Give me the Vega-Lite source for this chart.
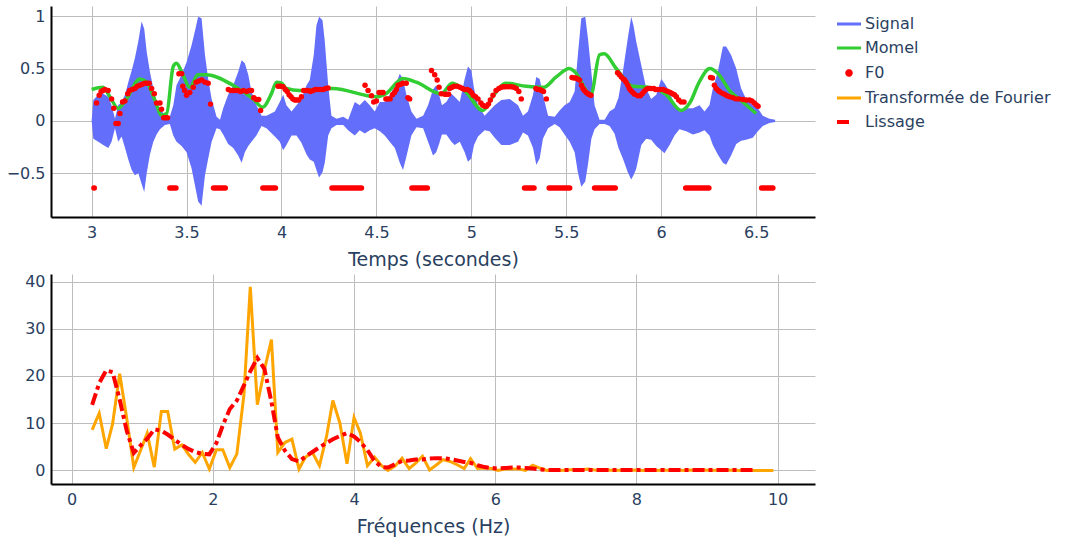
{
  "$schema": "https://vega.github.io/schema/vega-lite/v6.json",
  "padding": {"left": 5, "top": 6, "right": 5, "bottom": 5},
  "autosize": {"type": "pad"},
  "background": "white",
  "config": {
    "view": {"stroke": null},
    "font": "DejaVu Sans",
    "axis": {
      "labelFont": "DejaVu Sans", "labelFontSize": 16, "labelColor": "#2a3f5f",
      "titleFont": "DejaVu Sans", "titleFontSize": 19, "titleFontWeight": "normal", "titleColor": "#2a3f5f",
      "ticks": false, "gridColor": "#bdbdbd", "gridWidth": 1, "domainColor": "#000000", "domainWidth": 2, "labelPadding": 6
    },
    "axisY": {"minExtent": 46, "maxExtent": 46},
    "axisX": {"minExtent": 24, "maxExtent": 24, "titlePadding": 9, "labelPadding": 7},
    "legend": {
      "title": null, "orient": "right", "offset": 16, "padding": 10,
      "symbolType": "stroke", "symbolSize": 441, "symbolStrokeWidth": 3,
      "labelFont": "DejaVu Sans", "labelFontSize": 16, "labelColor": "#2a3f5f", "labelOffset": 8, "rowPadding": 8, "labelLimit": 0
    }
  },
  "datasets": {
    "signal": [
      {"t": 3.0, "hi": 0.0, "lo": 0.0}, {"t": 3.009, "hi": 0.2, "lo": -0.17}, {"t": 3.035, "hi": 0.25, "lo": -0.2}, {"t": 3.061, "hi": 0.26, "lo": -0.23},
      {"t": 3.088, "hi": 0.23, "lo": -0.26}, {"t": 3.105, "hi": 0.15, "lo": -0.2}, {"t": 3.123, "hi": 0.02, "lo": -0.07}, {"t": 3.14, "hi": 0.15, "lo": -0.2},
      {"t": 3.158, "hi": 0.18, "lo": -0.15}, {"t": 3.176, "hi": 0.25, "lo": -0.26}, {"t": 3.193, "hi": 0.37, "lo": -0.37}, {"t": 3.211, "hi": 0.48, "lo": -0.47},
      {"t": 3.228, "hi": 0.6, "lo": -0.52}, {"t": 3.246, "hi": 0.76, "lo": -0.5}, {"t": 3.263, "hi": 0.95, "lo": -0.6}, {"t": 3.277, "hi": 0.88, "lo": -0.68},
      {"t": 3.29, "hi": 0.66, "lo": -0.5}, {"t": 3.307, "hi": 0.47, "lo": -0.32}, {"t": 3.325, "hi": 0.31, "lo": -0.2}, {"t": 3.342, "hi": 0.18, "lo": -0.13},
      {"t": 3.36, "hi": 0.12, "lo": -0.08}, {"t": 3.386, "hi": 0.05, "lo": -0.04}, {"t": 3.412, "hi": 0.04, "lo": -0.03}, {"t": 3.43, "hi": 0.15, "lo": -0.14},
      {"t": 3.447, "hi": 0.34, "lo": -0.2}, {"t": 3.474, "hi": 0.44, "lo": -0.24}, {"t": 3.5, "hi": 0.56, "lo": -0.3}, {"t": 3.526, "hi": 0.72, "lo": -0.45},
      {"t": 3.547, "hi": 0.88, "lo": -0.64}, {"t": 3.561, "hi": 0.995, "lo": -0.77}, {"t": 3.579, "hi": 0.98, "lo": -0.81}, {"t": 3.597, "hi": 0.63, "lo": -0.52},
      {"t": 3.614, "hi": 0.4, "lo": -0.36}, {"t": 3.632, "hi": 0.21, "lo": -0.2}, {"t": 3.658, "hi": 0.04, "lo": -0.07}, {"t": 3.676, "hi": 0.01, "lo": -0.08},
      {"t": 3.693, "hi": 0.12, "lo": -0.13}, {"t": 3.719, "hi": 0.25, "lo": -0.22}, {"t": 3.746, "hi": 0.34, "lo": -0.26}, {"t": 3.772, "hi": 0.47, "lo": -0.33},
      {"t": 3.79, "hi": 0.58, "lo": -0.4}, {"t": 3.807, "hi": 0.55, "lo": -0.3}, {"t": 3.825, "hi": 0.44, "lo": -0.24}, {"t": 3.842, "hi": 0.28, "lo": -0.2},
      {"t": 3.868, "hi": 0.15, "lo": -0.14}, {"t": 3.895, "hi": 0.05, "lo": -0.05}, {"t": 3.921, "hi": 0.05, "lo": -0.07}, {"t": 3.965, "hi": 0.09, "lo": -0.15},
      {"t": 3.991, "hi": 0.18, "lo": -0.2}, {"t": 4.009, "hi": 0.25, "lo": -0.28}, {"t": 4.026, "hi": 0.15, "lo": -0.23}, {"t": 4.053, "hi": 0.09, "lo": -0.14},
      {"t": 4.079, "hi": 0.15, "lo": -0.14}, {"t": 4.105, "hi": 0.21, "lo": -0.21}, {"t": 4.132, "hi": 0.34, "lo": -0.32}, {"t": 4.149, "hi": 0.39, "lo": -0.37},
      {"t": 4.17, "hi": 0.63, "lo": -0.39}, {"t": 4.184, "hi": 0.91, "lo": -0.47}, {"t": 4.198, "hi": 0.995, "lo": -0.54}, {"t": 4.216, "hi": 0.96, "lo": -0.49},
      {"t": 4.228, "hi": 0.76, "lo": -0.4}, {"t": 4.246, "hi": 0.34, "lo": -0.14}, {"t": 4.263, "hi": 0.05, "lo": -0.07}, {"t": 4.29, "hi": 0.02, "lo": -0.04},
      {"t": 4.325, "hi": 0.04, "lo": -0.04}, {"t": 4.351, "hi": 0.01, "lo": -0.09}, {"t": 4.386, "hi": 0.18, "lo": -0.14}, {"t": 4.412, "hi": 0.15, "lo": -0.09},
      {"t": 4.439, "hi": 0.2, "lo": -0.12}, {"t": 4.465, "hi": 0.15, "lo": -0.09}, {"t": 4.491, "hi": 0.09, "lo": -0.07}, {"t": 4.518, "hi": 0.18, "lo": -0.1},
      {"t": 4.544, "hi": 0.18, "lo": -0.14}, {"t": 4.57, "hi": 0.25, "lo": -0.2}, {"t": 4.597, "hi": 0.32, "lo": -0.26}, {"t": 4.623, "hi": 0.45, "lo": -0.4},
      {"t": 4.64, "hi": 0.4, "lo": -0.47}, {"t": 4.658, "hi": 0.25, "lo": -0.34}, {"t": 4.684, "hi": 0.09, "lo": -0.14}, {"t": 4.711, "hi": 0.02, "lo": -0.06},
      {"t": 4.746, "hi": 0.05, "lo": -0.07}, {"t": 4.772, "hi": 0.15, "lo": -0.2}, {"t": 4.798, "hi": 0.3, "lo": -0.33}, {"t": 4.815, "hi": 0.34, "lo": -0.3},
      {"t": 4.83, "hi": 0.25, "lo": -0.22}, {"t": 4.845, "hi": 0.15, "lo": -0.13}, {"t": 4.868, "hi": 0.18, "lo": -0.13}, {"t": 4.895, "hi": 0.26, "lo": -0.2},
      {"t": 4.912, "hi": 0.23, "lo": -0.23}, {"t": 4.939, "hi": 0.18, "lo": -0.2}, {"t": 4.965, "hi": 0.4, "lo": -0.3}, {"t": 4.982, "hi": 0.52, "lo": -0.39},
      {"t": 5.0, "hi": 0.48, "lo": -0.36}, {"t": 5.014, "hi": 0.31, "lo": -0.23}, {"t": 5.035, "hi": 0.15, "lo": -0.15}, {"t": 5.07, "hi": 0.05, "lo": -0.09},
      {"t": 5.096, "hi": 0.1, "lo": -0.1}, {"t": 5.123, "hi": 0.15, "lo": -0.16}, {"t": 5.158, "hi": 0.2, "lo": -0.23}, {"t": 5.202, "hi": 0.21, "lo": -0.23},
      {"t": 5.246, "hi": 0.15, "lo": -0.2}, {"t": 5.272, "hi": 0.05, "lo": -0.11}, {"t": 5.298, "hi": 0.09, "lo": -0.14}, {"t": 5.325, "hi": 0.25, "lo": -0.26},
      {"t": 5.342, "hi": 0.42, "lo": -0.42}, {"t": 5.36, "hi": 0.4, "lo": -0.36}, {"t": 5.377, "hi": 0.25, "lo": -0.17}, {"t": 5.404, "hi": 0.05, "lo": -0.07},
      {"t": 5.439, "hi": 0.04, "lo": -0.03}, {"t": 5.465, "hi": 0.1, "lo": -0.06}, {"t": 5.491, "hi": 0.15, "lo": -0.13}, {"t": 5.518, "hi": 0.18, "lo": -0.2},
      {"t": 5.544, "hi": 0.28, "lo": -0.3}, {"t": 5.561, "hi": 0.63, "lo": -0.49}, {"t": 5.579, "hi": 0.98, "lo": -0.63}, {"t": 5.6, "hi": 0.995, "lo": -0.58},
      {"t": 5.614, "hi": 0.79, "lo": -0.42}, {"t": 5.632, "hi": 0.47, "lo": -0.17}, {"t": 5.649, "hi": 0.15, "lo": -0.08}, {"t": 5.675, "hi": 0.01, "lo": -0.03},
      {"t": 5.702, "hi": 0.01, "lo": -0.03}, {"t": 5.728, "hi": 0.09, "lo": -0.05}, {"t": 5.754, "hi": 0.12, "lo": -0.12}, {"t": 5.775, "hi": 0.22, "lo": -0.26},
      {"t": 5.798, "hi": 0.47, "lo": -0.36}, {"t": 5.824, "hi": 0.79, "lo": -0.49}, {"t": 5.842, "hi": 0.995, "lo": -0.56}, {"t": 5.854, "hi": 0.91, "lo": -0.52},
      {"t": 5.868, "hi": 0.76, "lo": -0.46}, {"t": 5.895, "hi": 0.53, "lo": -0.23}, {"t": 5.921, "hi": 0.31, "lo": -0.17}, {"t": 5.947, "hi": 0.21, "lo": -0.18},
      {"t": 5.974, "hi": 0.25, "lo": -0.24}, {"t": 6.0, "hi": 0.4, "lo": -0.28}, {"t": 6.017, "hi": 0.36, "lo": -0.31}, {"t": 6.044, "hi": 0.28, "lo": -0.23},
      {"t": 6.07, "hi": 0.15, "lo": -0.14}, {"t": 6.096, "hi": 0.09, "lo": -0.08}, {"t": 6.132, "hi": 0.12, "lo": -0.1}, {"t": 6.167, "hi": 0.12, "lo": -0.13},
      {"t": 6.202, "hi": 0.15, "lo": -0.11}, {"t": 6.228, "hi": 0.09, "lo": -0.09}, {"t": 6.254, "hi": 0.15, "lo": -0.14}, {"t": 6.272, "hi": 0.31, "lo": -0.23},
      {"t": 6.298, "hi": 0.47, "lo": -0.32}, {"t": 6.325, "hi": 0.71, "lo": -0.4}, {"t": 6.342, "hi": 0.71, "lo": -0.42}, {"t": 6.368, "hi": 0.63, "lo": -0.33},
      {"t": 6.395, "hi": 0.5, "lo": -0.22}, {"t": 6.421, "hi": 0.31, "lo": -0.19}, {"t": 6.447, "hi": 0.21, "lo": -0.18}, {"t": 6.482, "hi": 0.15, "lo": -0.16},
      {"t": 6.509, "hi": 0.12, "lo": -0.1}, {"t": 6.535, "hi": 0.05, "lo": -0.05}, {"t": 6.57, "hi": 0.02, "lo": -0.02}, {"t": 6.6, "hi": 0.01, "lo": -0.01}
    ],
    "momel": [
      {"t": 3.0, "v": 0.3}, {"t": 3.06, "v": 0.32}, {"t": 3.096, "v": 0.23}, {"t": 3.14, "v": 0.12}, {"t": 3.184, "v": 0.21}, {"t": 3.254, "v": 0.4},
      {"t": 3.29, "v": 0.37}, {"t": 3.333, "v": 0.2}, {"t": 3.368, "v": 0.054}, {"t": 3.395, "v": 0.07}, {"t": 3.43, "v": 0.52}, {"t": 3.447, "v": 0.55},
      {"t": 3.474, "v": 0.47}, {"t": 3.517, "v": 0.32}, {"t": 3.56, "v": 0.44}, {"t": 3.605, "v": 0.44}, {"t": 3.745, "v": 0.34}, {"t": 3.85, "v": 0.21},
      {"t": 3.9, "v": 0.13}, {"t": 3.947, "v": 0.26}, {"t": 3.974, "v": 0.37}, {"t": 4.0, "v": 0.36}, {"t": 4.026, "v": 0.31}, {"t": 4.096, "v": 0.29},
      {"t": 4.27, "v": 0.31}, {"t": 4.5, "v": 0.23}, {"t": 4.55, "v": 0.26}, {"t": 4.64, "v": 0.405}, {"t": 4.71, "v": 0.37}, {"t": 4.84, "v": 0.26},
      {"t": 4.9, "v": 0.36}, {"t": 4.97, "v": 0.28}, {"t": 5.06, "v": 0.1}, {"t": 5.12, "v": 0.25}, {"t": 5.18, "v": 0.36}, {"t": 5.29, "v": 0.33},
      {"t": 5.38, "v": 0.32}, {"t": 5.447, "v": 0.42}, {"t": 5.517, "v": 0.5}, {"t": 5.544, "v": 0.47}, {"t": 5.63, "v": 0.25}, {"t": 5.675, "v": 0.63},
      {"t": 5.7, "v": 0.64}, {"t": 5.763, "v": 0.5}, {"t": 5.85, "v": 0.33}, {"t": 5.94, "v": 0.32}, {"t": 6.026, "v": 0.25}, {"t": 6.105, "v": 0.1},
      {"t": 6.15, "v": 0.17}, {"t": 6.2, "v": 0.37}, {"t": 6.256, "v": 0.5}, {"t": 6.3, "v": 0.45}, {"t": 6.36, "v": 0.29}, {"t": 6.43, "v": 0.18},
      {"t": 6.5, "v": 0.07}
    ],
    "f0": [
      {"t": 3.026, "v": 0.17}, {"t": 3.04, "v": 0.245}, {"t": 3.05, "v": 0.28}, {"t": 3.06, "v": 0.29}, {"t": 3.07, "v": 0.3}, {"t": 3.087, "v": 0.29},
      {"t": 3.105, "v": 0.21}, {"t": 3.117, "v": 0.12}, {"t": 3.128, "v": -0.025}, {"t": 3.14, "v": -0.025}, {"t": 3.149, "v": 0.07}, {"t": 3.163, "v": 0.18},
      {"t": 3.175, "v": 0.19}, {"t": 3.19, "v": 0.26}, {"t": 3.2, "v": 0.29}, {"t": 3.214, "v": 0.3}, {"t": 3.228, "v": 0.31}, {"t": 3.24, "v": 0.33},
      {"t": 3.254, "v": 0.34}, {"t": 3.267, "v": 0.35}, {"t": 3.28, "v": 0.36}, {"t": 3.292, "v": 0.36}, {"t": 3.303, "v": 0.36}, {"t": 3.316, "v": 0.31},
      {"t": 3.33, "v": 0.26}, {"t": 3.342, "v": 0.17}, {"t": 3.36, "v": 0.17}, {"t": 3.368, "v": 0.11}, {"t": 3.38, "v": 0.03}, {"t": 3.39, "v": 0.03},
      {"t": 3.4, "v": 0.03}, {"t": 3.46, "v": 0.45}, {"t": 3.474, "v": 0.45}, {"t": 3.48, "v": 0.33}, {"t": 3.49, "v": 0.29}, {"t": 3.5, "v": 0.245},
      {"t": 3.517, "v": 0.27}, {"t": 3.535, "v": 0.32}, {"t": 3.55, "v": 0.37}, {"t": 3.565, "v": 0.38}, {"t": 3.58, "v": 0.39}, {"t": 3.597, "v": 0.37},
      {"t": 3.614, "v": 0.36}, {"t": 3.626, "v": 0.16}, {"t": 3.72, "v": 0.3}, {"t": 3.733, "v": 0.29}, {"t": 3.745, "v": 0.29}, {"t": 3.757, "v": 0.29},
      {"t": 3.77, "v": 0.29}, {"t": 3.785, "v": 0.28}, {"t": 3.8, "v": 0.29}, {"t": 3.816, "v": 0.28}, {"t": 3.83, "v": 0.29}, {"t": 3.842, "v": 0.29},
      {"t": 3.854, "v": 0.22}, {"t": 3.868, "v": 0.205}, {"t": 3.88, "v": 0.205}, {"t": 3.89, "v": 0.1}, {"t": 3.982, "v": 0.33}, {"t": 3.995, "v": 0.33},
      {"t": 4.008, "v": 0.325}, {"t": 4.02, "v": 0.3}, {"t": 4.03, "v": 0.28}, {"t": 4.04, "v": 0.25}, {"t": 4.05, "v": 0.23}, {"t": 4.06, "v": 0.21},
      {"t": 4.07, "v": 0.2}, {"t": 4.08, "v": 0.2}, {"t": 4.09, "v": 0.2}, {"t": 4.105, "v": 0.23}, {"t": 4.117, "v": 0.29}, {"t": 4.128, "v": 0.29},
      {"t": 4.14, "v": 0.29}, {"t": 4.153, "v": 0.28}, {"t": 4.166, "v": 0.29}, {"t": 4.178, "v": 0.3}, {"t": 4.19, "v": 0.3}, {"t": 4.205, "v": 0.3},
      {"t": 4.22, "v": 0.3}, {"t": 4.232, "v": 0.31}, {"t": 4.245, "v": 0.315}, {"t": 4.44, "v": 0.34}, {"t": 4.456, "v": 0.29}, {"t": 4.474, "v": 0.24},
      {"t": 4.486, "v": 0.18}, {"t": 4.5, "v": 0.19}, {"t": 4.514, "v": 0.27}, {"t": 4.525, "v": 0.27}, {"t": 4.535, "v": 0.27}, {"t": 4.55, "v": 0.21},
      {"t": 4.56, "v": 0.21}, {"t": 4.572, "v": 0.21}, {"t": 4.585, "v": 0.25}, {"t": 4.596, "v": 0.27}, {"t": 4.605, "v": 0.3}, {"t": 4.614, "v": 0.34},
      {"t": 4.628, "v": 0.35}, {"t": 4.64, "v": 0.36}, {"t": 4.657, "v": 0.36}, {"t": 4.666, "v": 0.22}, {"t": 4.675, "v": 0.21}, {"t": 4.79, "v": 0.48},
      {"t": 4.807, "v": 0.44}, {"t": 4.82, "v": 0.39}, {"t": 4.83, "v": 0.32}, {"t": 4.842, "v": 0.26}, {"t": 4.86, "v": 0.255}, {"t": 4.87, "v": 0.255},
      {"t": 4.88, "v": 0.255}, {"t": 4.886, "v": 0.31}, {"t": 4.898, "v": 0.32}, {"t": 4.91, "v": 0.33}, {"t": 4.925, "v": 0.33}, {"t": 4.94, "v": 0.32},
      {"t": 4.953, "v": 0.31}, {"t": 4.965, "v": 0.3}, {"t": 4.978, "v": 0.3}, {"t": 4.99, "v": 0.29}, {"t": 5.0, "v": 0.27}, {"t": 5.01, "v": 0.245},
      {"t": 5.022, "v": 0.23}, {"t": 5.035, "v": 0.21}, {"t": 5.05, "v": 0.17}, {"t": 5.06, "v": 0.15}, {"t": 5.07, "v": 0.14}, {"t": 5.08, "v": 0.14},
      {"t": 5.09, "v": 0.16}, {"t": 5.1, "v": 0.2}, {"t": 5.114, "v": 0.245}, {"t": 5.13, "v": 0.29}, {"t": 5.145, "v": 0.31}, {"t": 5.158, "v": 0.32},
      {"t": 5.17, "v": 0.325}, {"t": 5.18, "v": 0.325}, {"t": 5.195, "v": 0.325}, {"t": 5.21, "v": 0.325}, {"t": 5.224, "v": 0.32}, {"t": 5.237, "v": 0.31},
      {"t": 5.25, "v": 0.28}, {"t": 5.263, "v": 0.21}, {"t": 5.34, "v": 0.31}, {"t": 5.35, "v": 0.3}, {"t": 5.36, "v": 0.3}, {"t": 5.37, "v": 0.29},
      {"t": 5.38, "v": 0.28}, {"t": 5.395, "v": 0.21}, {"t": 5.53, "v": 0.415}, {"t": 5.54, "v": 0.41}, {"t": 5.55, "v": 0.41}, {"t": 5.56, "v": 0.4},
      {"t": 5.57, "v": 0.39}, {"t": 5.58, "v": 0.34}, {"t": 5.588, "v": 0.31}, {"t": 5.595, "v": 0.29}, {"t": 5.605, "v": 0.27}, {"t": 5.614, "v": 0.26},
      {"t": 5.622, "v": 0.25}, {"t": 5.63, "v": 0.245}, {"t": 5.77, "v": 0.46}, {"t": 5.78, "v": 0.44}, {"t": 5.79, "v": 0.42}, {"t": 5.8, "v": 0.4},
      {"t": 5.807, "v": 0.39}, {"t": 5.815, "v": 0.37}, {"t": 5.824, "v": 0.34}, {"t": 5.832, "v": 0.31}, {"t": 5.84, "v": 0.29}, {"t": 5.85, "v": 0.27},
      {"t": 5.86, "v": 0.255}, {"t": 5.877, "v": 0.24}, {"t": 5.89, "v": 0.24}, {"t": 5.9, "v": 0.26}, {"t": 5.91, "v": 0.28}, {"t": 5.92, "v": 0.3},
      {"t": 5.93, "v": 0.31}, {"t": 5.945, "v": 0.31}, {"t": 5.96, "v": 0.31}, {"t": 5.97, "v": 0.3}, {"t": 5.98, "v": 0.3}, {"t": 5.995, "v": 0.3},
      {"t": 6.01, "v": 0.3}, {"t": 6.022, "v": 0.29}, {"t": 6.035, "v": 0.28}, {"t": 6.048, "v": 0.27}, {"t": 6.06, "v": 0.26}, {"t": 6.07, "v": 0.25},
      {"t": 6.08, "v": 0.23}, {"t": 6.092, "v": 0.2}, {"t": 6.105, "v": 0.18}, {"t": 6.12, "v": 0.18}, {"t": 6.26, "v": 0.415}, {"t": 6.27, "v": 0.41},
      {"t": 6.28, "v": 0.34}, {"t": 6.29, "v": 0.31}, {"t": 6.3, "v": 0.29}, {"t": 6.307, "v": 0.28}, {"t": 6.32, "v": 0.265}, {"t": 6.333, "v": 0.255},
      {"t": 6.346, "v": 0.24}, {"t": 6.36, "v": 0.23}, {"t": 6.378, "v": 0.22}, {"t": 6.395, "v": 0.21}, {"t": 6.41, "v": 0.21}, {"t": 6.43, "v": 0.205},
      {"t": 6.448, "v": 0.2}, {"t": 6.465, "v": 0.2}, {"t": 6.478, "v": 0.19}, {"t": 6.49, "v": 0.17}, {"t": 6.5, "v": 0.155}, {"t": 6.51, "v": 0.14}
    ],
    "unvoiced": [
      {"t0": 3.012, "t1": 3.014, "v": -0.64}, {"t0": 3.412, "t1": 3.444, "v": -0.64}, {"t0": 3.642, "t1": 3.704, "v": -0.64},
      {"t0": 3.902, "t1": 3.968, "v": -0.64}, {"t0": 4.266, "t1": 4.421, "v": -0.64}, {"t0": 4.687, "t1": 4.768, "v": -0.64},
      {"t0": 5.28, "t1": 5.33, "v": -0.64}, {"t0": 5.41, "t1": 5.518, "v": -0.64}, {"t0": 5.649, "t1": 5.758, "v": -0.64},
      {"t0": 6.129, "t1": 6.251, "v": -0.64}, {"t0": 6.529, "t1": 6.588, "v": -0.64}
    ],
    "fourier": [
      {"f": 0.29, "a": 8.6}, {"f": 0.39, "a": 12.1}, {"f": 0.49, "a": 4.6}, {"f": 0.58, "a": 9.9}, {"f": 0.68, "a": 20.5}, {"f": 0.78, "a": 11.0},
      {"f": 0.88, "a": 0.6}, {"f": 0.97, "a": 4.0}, {"f": 1.07, "a": 7.9}, {"f": 1.17, "a": 0.7}, {"f": 1.27, "a": 12.5}, {"f": 1.36, "a": 12.5},
      {"f": 1.46, "a": 4.5}, {"f": 1.56, "a": 5.4}, {"f": 1.66, "a": 3.3}, {"f": 1.75, "a": 1.7}, {"f": 1.85, "a": 3.8}, {"f": 1.95, "a": 0.3},
      {"f": 2.05, "a": 4.4}, {"f": 2.14, "a": 4.4}, {"f": 2.24, "a": 0.6}, {"f": 2.34, "a": 3.5}, {"f": 2.44, "a": 16.0}, {"f": 2.53, "a": 38.9},
      {"f": 2.63, "a": 13.9}, {"f": 2.73, "a": 21.3}, {"f": 2.83, "a": 27.7}, {"f": 2.92, "a": 3.8}, {"f": 3.02, "a": 5.9}, {"f": 3.12, "a": 6.6},
      {"f": 3.22, "a": 0.3}, {"f": 3.31, "a": 2.8}, {"f": 3.41, "a": 3.8}, {"f": 3.51, "a": 1.0}, {"f": 3.61, "a": 7.2}, {"f": 3.7, "a": 14.8},
      {"f": 3.8, "a": 10.0}, {"f": 3.9, "a": 1.4}, {"f": 4.0, "a": 11.2}, {"f": 4.09, "a": 7.9}, {"f": 4.19, "a": 1.0}, {"f": 4.29, "a": 2.8},
      {"f": 4.39, "a": 1.0}, {"f": 4.48, "a": 0.0}, {"f": 4.58, "a": 0.9}, {"f": 4.68, "a": 2.6}, {"f": 4.78, "a": 0.4}, {"f": 4.87, "a": 1.5},
      {"f": 4.97, "a": 3.0}, {"f": 5.07, "a": 0.1}, {"f": 5.17, "a": 1.2}, {"f": 5.26, "a": 2.3}, {"f": 5.36, "a": 1.9}, {"f": 5.46, "a": 1.2},
      {"f": 5.56, "a": 0.4}, {"f": 5.65, "a": 2.5}, {"f": 5.75, "a": 0.4}, {"f": 5.85, "a": 0.5}, {"f": 5.95, "a": 0.4}, {"f": 6.04, "a": 0.0},
      {"f": 6.14, "a": 0.3}, {"f": 6.24, "a": 0.3}, {"f": 6.34, "a": 0.3}, {"f": 6.43, "a": 0.0}, {"f": 6.53, "a": 1.1}, {"f": 6.63, "a": 0.5},
      {"f": 6.73, "a": 0.0}, {"f": 6.82, "a": 0.1}, {"f": 6.92, "a": 0.0}, {"f": 7.02, "a": 0.1}, {"f": 7.12, "a": 0.2}, {"f": 7.21, "a": 0.1},
      {"f": 7.31, "a": 0.3}, {"f": 7.41, "a": 0.1}, {"f": 7.51, "a": 0.0}, {"f": 7.6, "a": 0.1}, {"f": 7.7, "a": 0.0}, {"f": 7.8, "a": 0.1},
      {"f": 7.9, "a": 0.0}, {"f": 7.99, "a": 0.1}, {"f": 8.09, "a": 0.0}, {"f": 8.19, "a": 0.2}, {"f": 8.29, "a": 0.0}, {"f": 8.38, "a": 0.1},
      {"f": 8.48, "a": 0.0}, {"f": 8.58, "a": 0.1}, {"f": 8.68, "a": 0.0}, {"f": 8.77, "a": 0.1}, {"f": 8.87, "a": 0.0}, {"f": 8.97, "a": 0.1},
      {"f": 9.07, "a": 0.0}, {"f": 9.16, "a": 0.1}, {"f": 9.26, "a": 0.0}, {"f": 9.36, "a": 0.1}, {"f": 9.46, "a": 0.0}, {"f": 9.55, "a": 0.1},
      {"f": 9.65, "a": 0.0}, {"f": 9.75, "a": 0.0}, {"f": 9.85, "a": 0.0}, {"f": 9.94, "a": 0.0}
    ],
    "lissage": [
      {"f": 0.29, "a": 13.9}, {"f": 0.39, "a": 18.5}, {"f": 0.49, "a": 21.2}, {"f": 0.58, "a": 20.8}, {"f": 0.68, "a": 15.0}, {"f": 0.78, "a": 8.4},
      {"f": 0.88, "a": 3.7}, {"f": 0.97, "a": 5.2}, {"f": 1.07, "a": 6.7}, {"f": 1.17, "a": 8.7}, {"f": 1.27, "a": 8.4}, {"f": 1.36, "a": 7.6},
      {"f": 1.46, "a": 6.5}, {"f": 1.56, "a": 5.4}, {"f": 1.66, "a": 4.5}, {"f": 1.75, "a": 3.9}, {"f": 1.85, "a": 3.5}, {"f": 1.95, "a": 3.4},
      {"f": 2.05, "a": 5.8}, {"f": 2.14, "a": 9.5}, {"f": 2.24, "a": 13.0}, {"f": 2.34, "a": 14.8}, {"f": 2.44, "a": 18.0}, {"f": 2.53, "a": 21.0},
      {"f": 2.63, "a": 23.8}, {"f": 2.73, "a": 21.5}, {"f": 2.83, "a": 14.5}, {"f": 2.92, "a": 7.0}, {"f": 3.02, "a": 4.2}, {"f": 3.12, "a": 2.4},
      {"f": 3.22, "a": 1.9}, {"f": 3.31, "a": 2.9}, {"f": 3.41, "a": 3.9}, {"f": 3.51, "a": 4.9}, {"f": 3.61, "a": 5.8}, {"f": 3.7, "a": 6.6},
      {"f": 3.8, "a": 7.3}, {"f": 3.9, "a": 7.9}, {"f": 4.0, "a": 7.2}, {"f": 4.09, "a": 6.0}, {"f": 4.19, "a": 4.3}, {"f": 4.29, "a": 2.0},
      {"f": 4.39, "a": 0.7}, {"f": 4.48, "a": 0.6}, {"f": 4.58, "a": 1.3}, {"f": 4.68, "a": 2.0}, {"f": 4.78, "a": 2.1}, {"f": 4.87, "a": 2.3},
      {"f": 4.97, "a": 2.3}, {"f": 5.07, "a": 2.5}, {"f": 5.17, "a": 2.6}, {"f": 5.26, "a": 2.6}, {"f": 5.36, "a": 2.4}, {"f": 5.46, "a": 2.1},
      {"f": 5.56, "a": 1.8}, {"f": 5.65, "a": 1.6}, {"f": 5.75, "a": 1.1}, {"f": 5.85, "a": 0.7}, {"f": 5.95, "a": 0.5}, {"f": 6.04, "a": 0.4},
      {"f": 6.14, "a": 0.5}, {"f": 6.24, "a": 0.6}, {"f": 6.34, "a": 0.6}, {"f": 6.43, "a": 0.5}, {"f": 6.53, "a": 0.4}, {"f": 6.63, "a": 0.2},
      {"f": 6.73, "a": 0.1}, {"f": 7.02, "a": 0.1}, {"f": 7.31, "a": 0.1}, {"f": 7.6, "a": 0.1}, {"f": 7.9, "a": 0.1}, {"f": 8.19, "a": 0.1},
      {"f": 8.48, "a": 0.1}, {"f": 8.77, "a": 0.1}, {"f": 9.07, "a": 0.1}, {"f": 9.36, "a": 0.1}, {"f": 9.65, "a": 0.1}
    ]
  },
  "spacing": 57,
  "bounds": "flush",
  "resolve": {"scale": {"color": "shared"}, "legend": {"color": "shared"}},
  "vconcat": [
    {
      "width": 764,
      "height": 211,
      "layer": [
        {
          "data": {"name": "signal"},
          "mark": {"type": "area", "strokeWidth": 0, "opacity": 1},
          "encoding": {
            "x": {"field": "t", "type": "quantitative", "scale": {"domain": [2.786, 6.81], "nice": false, "zero": false},
                  "axis": {"values": [3, 3.5, 4, 4.5, 5, 5.5, 6, 6.5], "format": "~g", "title": "Temps (secondes)"}},
            "y": {"field": "hi", "type": "quantitative", "scale": {"domain": [-0.918, 1.097], "nice": false, "zero": false},
                  "axis": {"values": [-0.5, 0, 0.5, 1], "format": "~g", "title": null}},
            "y2": {"field": "lo"},
            "color": {
              "datum": "Signal",
              "scale": {"domain": ["Signal", "Momel", "F0", "Transformée de Fourier", "Lissage"],
                        "range": ["#636efa", "#32cd32", "#ff0000", "#ffa500", "#ff0000"]},
              "legend": {"encode": {"symbols": {"update": {
                "shape": {"signal": "datum.value === 'F0' ? 'circle' : 'stroke'"},
                "size": {"signal": "datum.value === 'F0' ? 20 : 576"},
                "fill": {"signal": "datum.value === 'F0' ? '#ff0000' : 'transparent'"},
                "stroke": {"signal": "datum.value === 'Signal' ? '#636efa' : datum.value === 'Momel' ? '#32cd32' : datum.value === 'F0' ? 'transparent' : datum.value === 'Lissage' ? '#ff0000' : '#ffa500'"},
                "strokeWidth": {"signal": "datum.value === 'Lissage' ? 4 : 3"},
                "strokeDash": {"signal": "datum.value === 'Lissage' ? [12, 100] : [1, 0]"},
                "opacity": {"value": 1}
              }}}}
            }
          }
        },
        {
          "data": {"name": "momel"},
          "mark": {"type": "line", "strokeWidth": 3.5, "interpolate": "monotone"},
          "encoding": {
            "x": {"field": "t", "type": "quantitative"},
            "y": {"field": "v", "type": "quantitative"},
            "color": {"datum": "Momel",
              "legend": {"encode": {"symbols": {"update": {
                "shape": {"signal": "datum.value === 'F0' ? 'circle' : 'stroke'"},
                "size": {"signal": "datum.value === 'F0' ? 20 : 576"},
                "fill": {"signal": "datum.value === 'F0' ? '#ff0000' : 'transparent'"},
                "stroke": {"signal": "datum.value === 'Signal' ? '#636efa' : datum.value === 'Momel' ? '#32cd32' : datum.value === 'F0' ? 'transparent' : datum.value === 'Lissage' ? '#ff0000' : '#ffa500'"},
                "strokeWidth": {"signal": "datum.value === 'Lissage' ? 4 : 3"},
                "strokeDash": {"signal": "datum.value === 'Lissage' ? [12, 100] : [1, 0]"},
                "opacity": {"value": 1}
              }}}}}
          }
        },
        {
          "data": {"name": "unvoiced"},
          "mark": {"type": "rule", "strokeWidth": 5.5, "strokeCap": "round"},
          "encoding": {
            "x": {"field": "t0", "type": "quantitative"},
            "x2": {"field": "t1"},
            "y": {"field": "v", "type": "quantitative"},
            "color": {"datum": "F0",
              "legend": {"encode": {"symbols": {"update": {
                "shape": {"signal": "datum.value === 'F0' ? 'circle' : 'stroke'"},
                "size": {"signal": "datum.value === 'F0' ? 20 : 576"},
                "fill": {"signal": "datum.value === 'F0' ? '#ff0000' : 'transparent'"},
                "stroke": {"signal": "datum.value === 'Signal' ? '#636efa' : datum.value === 'Momel' ? '#32cd32' : datum.value === 'F0' ? 'transparent' : datum.value === 'Lissage' ? '#ff0000' : '#ffa500'"},
                "strokeWidth": {"signal": "datum.value === 'Lissage' ? 4 : 3"},
                "strokeDash": {"signal": "datum.value === 'Lissage' ? [12, 100] : [1, 0]"},
                "opacity": {"value": 1}
              }}}}}
          }
        },
        {
          "data": {"name": "f0"},
          "mark": {"type": "point", "filled": true, "size": 30, "opacity": 1},
          "encoding": {
            "x": {"field": "t", "type": "quantitative"},
            "y": {"field": "v", "type": "quantitative"},
            "color": {"datum": "F0",
              "legend": {"encode": {"symbols": {"update": {
                "shape": {"signal": "datum.value === 'F0' ? 'circle' : 'stroke'"},
                "size": {"signal": "datum.value === 'F0' ? 20 : 576"},
                "fill": {"signal": "datum.value === 'F0' ? '#ff0000' : 'transparent'"},
                "stroke": {"signal": "datum.value === 'Signal' ? '#636efa' : datum.value === 'Momel' ? '#32cd32' : datum.value === 'F0' ? 'transparent' : datum.value === 'Lissage' ? '#ff0000' : '#ffa500'"},
                "strokeWidth": {"signal": "datum.value === 'Lissage' ? 4 : 3"},
                "strokeDash": {"signal": "datum.value === 'Lissage' ? [12, 100] : [1, 0]"},
                "opacity": {"value": 1}
              }}}}}
          }
        }
      ]
    },
    {
      "width": 764,
      "height": 210,
      "layer": [
        {
          "data": {"name": "fourier"},
          "mark": {"type": "line", "strokeWidth": 3},
          "encoding": {
            "x": {"field": "f", "type": "quantitative", "scale": {"domain": [-0.293, 10.53], "nice": false, "zero": false},
                  "axis": {"values": [0, 2, 4, 6, 8, 10], "format": "d", "title": "Fréquences (Hz)"}},
            "y": {"field": "a", "type": "quantitative", "scale": {"domain": [-2.88, 41.6], "nice": false, "zero": false},
                  "axis": {"values": [0, 10, 20, 30, 40], "format": "d", "title": null}},
            "color": {"datum": "Transformée de Fourier",
              "legend": {"encode": {"symbols": {"update": {
                "shape": {"signal": "datum.value === 'F0' ? 'circle' : 'stroke'"},
                "size": {"signal": "datum.value === 'F0' ? 20 : 576"},
                "fill": {"signal": "datum.value === 'F0' ? '#ff0000' : 'transparent'"},
                "stroke": {"signal": "datum.value === 'Signal' ? '#636efa' : datum.value === 'Momel' ? '#32cd32' : datum.value === 'F0' ? 'transparent' : datum.value === 'Lissage' ? '#ff0000' : '#ffa500'"},
                "strokeWidth": {"signal": "datum.value === 'Lissage' ? 4 : 3"},
                "strokeDash": {"signal": "datum.value === 'Lissage' ? [12, 100] : [1, 0]"},
                "opacity": {"value": 1}
              }}}}}
          }
        },
        {
          "data": {"name": "lissage"},
          "mark": {"type": "line", "strokeWidth": 4, "strokeDash": [12, 4, 4, 4]},
          "encoding": {
            "x": {"field": "f", "type": "quantitative"},
            "y": {"field": "a", "type": "quantitative"},
            "color": {"datum": "Lissage",
              "legend": {"encode": {"symbols": {"update": {
                "shape": {"signal": "datum.value === 'F0' ? 'circle' : 'stroke'"},
                "size": {"signal": "datum.value === 'F0' ? 20 : 576"},
                "fill": {"signal": "datum.value === 'F0' ? '#ff0000' : 'transparent'"},
                "stroke": {"signal": "datum.value === 'Signal' ? '#636efa' : datum.value === 'Momel' ? '#32cd32' : datum.value === 'F0' ? 'transparent' : datum.value === 'Lissage' ? '#ff0000' : '#ffa500'"},
                "strokeWidth": {"signal": "datum.value === 'Lissage' ? 4 : 3"},
                "strokeDash": {"signal": "datum.value === 'Lissage' ? [12, 100] : [1, 0]"},
                "opacity": {"value": 1}
              }}}}}
          }
        }
      ]
    }
  ]
}
